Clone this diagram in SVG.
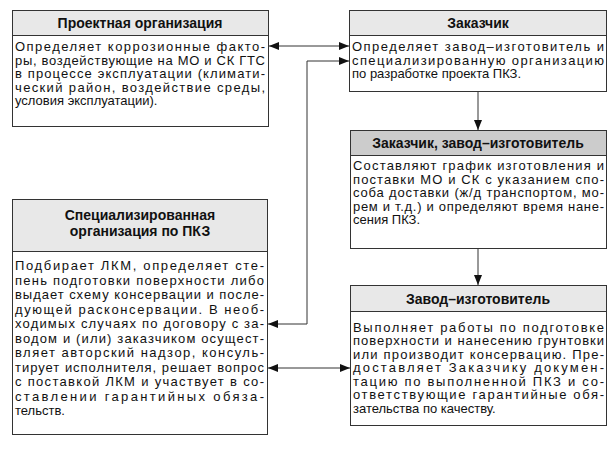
<svg xmlns="http://www.w3.org/2000/svg" width="614" height="450" viewBox="0 0 614 450">
<style>
.box{fill:#ffffff;stroke:#333;stroke-width:1}
.hdr{fill:#e8e8e8;stroke:#333;stroke-width:1}
.hdr2{fill:#cccccc;stroke:#333;stroke-width:1}
.t{font-family:"Liberation Sans",Arial,sans-serif;font-size:13px;fill:#111}
.h{font-family:"Liberation Sans",Arial,sans-serif;font-size:14px;font-weight:bold;fill:#111;text-anchor:middle}
.c{fill:none;stroke:#333;stroke-width:1}
</style>
<defs>
<marker id="ah" viewBox="0 0 10 8" refX="10" refY="4" markerWidth="10" markerHeight="8" markerUnits="userSpaceOnUse" orient="auto-start-reverse">
<path d="M0,0 L10,4 L0,8 Z" fill="#111"/>
</marker>
</defs>
<g id="connectors">
<line class="c" x1="269" y1="46" x2="349" y2="46" marker-start="url(#ah)" marker-end="url(#ah)"/>
<polyline class="c" points="349,61 307,61 307,324 268,324" marker-start="url(#ah)" marker-end="url(#ah)"/>
<line class="c" x1="268" y1="368" x2="350" y2="368" marker-start="url(#ah)" marker-end="url(#ah)"/>
<line class="c" x1="478" y1="92" x2="478" y2="130" marker-end="url(#ah)"/>
<line class="c" x1="478" y1="248" x2="478" y2="285" marker-end="url(#ah)"/>
</g>
<g id="proekt">
<rect class="box" x="12.5" y="10.5" width="256" height="116"/>
<rect class="hdr" x="12.5" y="10.5" width="256" height="25"/>
<text class="h" x="140" y="28">Проектная организация</text>
<text class="t" x="15" y="51" textLength="250" lengthAdjust="spacing">Определяет коррозионные факто-</text>
<text class="t" x="15" y="64.5" textLength="250" lengthAdjust="spacing">ры, воздействующие на МО и СК ГТС</text>
<text class="t" x="15" y="78" textLength="250" lengthAdjust="spacing">в процессе эксплуатации (климати-</text>
<text class="t" x="15" y="91.5" textLength="250" lengthAdjust="spacing">ческий район, воздействие среды,</text>
<text class="t" x="15" y="105">условия эксплуатации).</text>
</g>
<g id="zakazchik">
<rect class="box" x="349.5" y="10.5" width="257" height="81"/>
<rect class="hdr" x="349.5" y="10.5" width="257" height="25"/>
<text class="h" x="478" y="28">Заказчик</text>
<text class="t" x="352" y="51" textLength="252" lengthAdjust="spacing">Определяет завод–изготовитель и</text>
<text class="t" x="352" y="64.5" textLength="252" lengthAdjust="spacing">специализированную организацию</text>
<text class="t" x="352" y="78">по разработке проекта ПКЗ.</text>
</g>
<g id="zakazchik-zavod">
<rect class="box" x="350.5" y="130.5" width="256" height="118"/>
<rect class="hdr2" x="350.5" y="130.5" width="256" height="25"/>
<text class="h" x="478" y="148">Заказчик, завод–изготовитель</text>
<text class="t" x="353" y="170" textLength="251" lengthAdjust="spacing">Составляют график изготовления и</text>
<text class="t" x="353" y="183.5" textLength="251" lengthAdjust="spacing">поставки МО и СК с указанием спо-</text>
<text class="t" x="353" y="197" textLength="251" lengthAdjust="spacing">соба доставки (ж/д транспортом, мо-</text>
<text class="t" x="353" y="210.5" textLength="251" lengthAdjust="spacing">рем и т.д.) и определяют время нане-</text>
<text class="t" x="353" y="224">сения ПКЗ.</text>
</g>
<g id="specorg">
<rect class="box" x="12.5" y="199.5" width="255" height="235"/>
<rect class="hdr" x="12.5" y="199.5" width="255" height="52"/>
<text class="h" x="140" y="220">Специализированная</text>
<text class="h" x="140" y="236">организация по ПКЗ</text>
<text class="t" x="15" y="270" textLength="249" lengthAdjust="spacing">Подбирает ЛКМ, определяет сте-</text>
<text class="t" x="15" y="284.5" textLength="249" lengthAdjust="spacing">пень подготовки поверхности либо</text>
<text class="t" x="15" y="299" textLength="249" lengthAdjust="spacing">выдает схему консервации и после-</text>
<text class="t" x="15" y="313.5" textLength="249" lengthAdjust="spacing">дующей расконсервации. В необ-</text>
<text class="t" x="15" y="328" textLength="249" lengthAdjust="spacing">ходимых случаях по договору с за-</text>
<text class="t" x="15" y="342.5" textLength="249" lengthAdjust="spacing">водом и (или) заказчиком осущест-</text>
<text class="t" x="15" y="357" textLength="249" lengthAdjust="spacing">вляет авторский надзор, консуль-</text>
<text class="t" x="15" y="371.5" textLength="249" lengthAdjust="spacing">тирует исполнителя, решает вопрос</text>
<text class="t" x="15" y="386" textLength="249" lengthAdjust="spacing">с поставкой ЛКМ и участвует в со-</text>
<text class="t" x="15" y="400.5" textLength="249" lengthAdjust="spacing">ставлении гарантийных обяза-</text>
<text class="t" x="15" y="415">тельств.</text>
</g>
<g id="zavod">
<rect class="box" x="350.5" y="285.5" width="256" height="140"/>
<rect class="hdr" x="350.5" y="285.5" width="256" height="26"/>
<text class="h" x="478" y="303.5">Завод–изготовитель</text>
<text class="t" x="353" y="331.5" textLength="251" lengthAdjust="spacing">Выполняет работы по подготовке</text>
<text class="t" x="353" y="345" textLength="251" lengthAdjust="spacing">поверхности и нанесению грунтовки</text>
<text class="t" x="353" y="358.5" textLength="251" lengthAdjust="spacing">или производит консервацию. Пре-</text>
<text class="t" x="353" y="372" textLength="251" lengthAdjust="spacing">доставляет Заказчику докумен-</text>
<text class="t" x="353" y="385.5" textLength="251" lengthAdjust="spacing">тацию по выполненной ПКЗ и со-</text>
<text class="t" x="353" y="399" textLength="251" lengthAdjust="spacing">ответствующие гарантийные обя-</text>
<text class="t" x="353" y="412.5">зательства по качеству.</text>
</g>
</svg>
